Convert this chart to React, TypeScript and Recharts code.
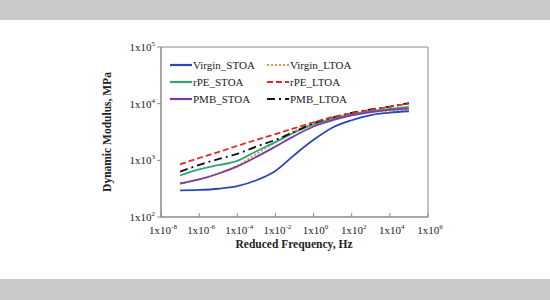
import React from 'react';
import { LineChart, Line, XAxis, YAxis, Legend, Label, ReferenceArea } from 'recharts';

// reduced frequency, Hz (one point per decade)
const FREQUENCY = [1e-7, 1e-6, 1e-5, 1e-4, 1e-3, 1e-2, 1e-1, 1, 10, 100, 1e3, 1e4, 1e5];

// dynamic modulus, MPa
const VIRGIN_STOA = [295, 300, 315, 350, 445, 650, 1250, 2300, 3800, 5100, 6300, 6950, 7350];
const VIRGIN_LTOA = [390, 460, 590, 800, 1300, 2100, 3300, 4500, 5600, 6500, 7100, 7600, 7900];
const RPE_STOA = [540, 690, 820, 980, 1450, 2100, 3100, 4300, 5400, 6500, 7400, 8100, 8800];
const RPE_LTOA = [850, 1100, 1400, 1800, 2300, 2900, 3700, 4700, 5800, 6800, 7800, 8800, 10000];
const PMB_STOA = [390, 460, 580, 780, 1150, 1750, 2700, 3950, 5100, 6200, 7100, 7800, 8200];
const PMB_LTOA = [630, 830, 1050, 1300, 1750, 2300, 3200, 4500, 5700, 6900, 7900, 8900, 10200];

const X_TICKS = [1e-8, 1e-6, 1e-4, 1e-2, 1, 1e2, 1e4, 1e6];
const Y_TICKS = [1e2, 1e3, 1e4, 1e5];

const SERIES = [
  { key: 'virginStoa', name: 'Virgin_STOA', values: VIRGIN_STOA, color: '#2b48b8', dash: undefined },
  { key: 'virginLtoa', name: 'Virgin_LTOA', values: VIRGIN_LTOA, color: '#e8924a', dash: '2 2' },
  { key: 'rpeStoa', name: 'rPE_STOA', values: RPE_STOA, color: '#2fa876', dash: undefined },
  { key: 'rpeLtoa', name: 'rPE_LTOA', values: RPE_LTOA, color: '#e02828', dash: '6 3' },
  { key: 'pmbStoa', name: 'PMB_STOA', values: PMB_STOA, color: '#7a3c9e', dash: undefined },
  { key: 'pmbLtoa', name: 'PMB_LTOA', values: PMB_LTOA, color: '#111111', dash: '8 4 2 4' },
];

// order lines are painted in (orange dotted sits underneath)
const DRAW_ORDER = ['virginLtoa', 'virginStoa', 'rpeStoa', 'pmbStoa', 'pmbLtoa', 'rpeLtoa'];

const data = FREQUENCY.map((f, i) => {
  const row: Record<string, number> = { f };
  SERIES.forEach((s) => {
    row[s.key] = s.values[i];
  });
  return row;
});

const FONT = "'Liberation Serif', 'Times New Roman', serif";
const TEXT = '#222';
const AXIS = '#8a8a8a';

const expOf = (v: number) => {
  const e = Math.round(Math.log10(v));
  return e < 0 ? `-${-e}` : `${e}`;
};

const XTick = (props: any) => {
  const { x, y, payload } = props;
  return (
    <g>
      <line x1={x} x2={x} y1={y} y2={y - 4} stroke={AXIS} />
      <text x={x + 2} y={y + 17} textAnchor="middle" fontFamily={FONT} fontSize={11} fill={TEXT}>
        <tspan>1x10</tspan>
        <tspan dy={-5} fontSize={7}>{expOf(payload.value)}</tspan>
      </text>
    </g>
  );
};

const YTick = (props: any) => {
  const { x, y, payload } = props;
  return (
    <g>
      <line x1={x} x2={x - 4} y1={y} y2={y} stroke={AXIS} />
      <text x={x - 6} y={y + 4} textAnchor="end" fontFamily={FONT} fontSize={11} fill={TEXT}>
        <tspan>1x10</tspan>
        <tspan dy={-5} fontSize={7}>{expOf(payload.value)}</tspan>
      </text>
    </g>
  );
};

const LegendBox = () => (
  <div
    style={{
      display: 'grid',
      gridTemplateColumns: '97px 120px',
      rowGap: 0,
      fontFamily: FONT,
      fontSize: 11,
      color: TEXT,
    }}
  >
    {SERIES.map((s) => (
      <div key={s.key} style={{ display: 'flex', alignItems: 'center', height: 17 }}>
        <svg width={22} height={6} style={{ marginRight: 1 }}>
          <line x1={0} x2={22} y1={3} y2={3} stroke={s.color} strokeWidth={2.2} strokeDasharray={s.dash} />
        </svg>
        <span>{s.name}</span>
      </div>
    ))}
  </div>
);

export default function App() {
  return (
    <div style={{ position: 'absolute', left: 0, top: 0, width: 550, height: 300, background: '#fff' }}>
      <div style={{ position: 'absolute', left: 0, top: 0, width: 550, height: 20, background: '#c9c9c9' }} />
      <div style={{ position: 'absolute', left: 0, top: 279, width: 550, height: 21, background: '#c9c9c9' }} />
      <LineChart
        width={550}
        height={300}
        data={data}
        margin={{ top: 47, right: 122, bottom: 63, left: 101 }}
        style={{ position: 'absolute', left: 0, top: 0 }}
      >
        <ReferenceArea
          x1={1e-8}
          x2={1e6}
          y1={100}
          y2={1e5}
          fill="none"
          stroke={AXIS}
          strokeWidth={1}
          ifOverflow="visible"
        />
        <XAxis
          dataKey="f"
          type="number"
          scale="log"
          domain={[1e-8, 1e6]}
          ticks={X_TICKS}
          allowDataOverflow
          height={20}
          tickSize={0}
          tickMargin={0}
          tickLine={false}
          stroke={AXIS}
          tick={<XTick />}
          interval={0}
        >
          <Label
            content={() => (
              <text x={294} y={248} textAnchor="middle" fontFamily={FONT} fontSize={11.5} fontWeight="bold" fill={TEXT}>
                Reduced Frequency, Hz
              </text>
            )}
          />
        </XAxis>
        <YAxis
          type="number"
          scale="log"
          domain={[100, 1e5]}
          ticks={Y_TICKS}
          allowDataOverflow
          width={60}
          tickSize={0}
          tickMargin={0}
          tickLine={false}
          stroke={AXIS}
          tick={<YTick />}
          interval={0}
        >
          <Label
            content={() => (
              <text
                x={107}
                y={132}
                transform="rotate(-90 107 132)"
                textAnchor="middle"
                dominantBaseline="central"
                fontFamily={FONT}
                fontSize={11.5}
                fontWeight="bold"
                fill={TEXT}
              >
                Dynamic Modulus, MPa
              </text>
            )}
          />
        </YAxis>
        <Legend
          layout="horizontal"
          verticalAlign="middle"
          align="center"
          content={<LegendBox />}
          wrapperStyle={{ left: 170, top: 56, width: 230, height: 52 }}
        />
        {DRAW_ORDER.map((k) => {
          const s = SERIES.find((x) => x.key === k)!;
          return (
            <Line
              key={s.key}
              dataKey={s.key}
              name={s.name}
              stroke={s.color}
              strokeWidth={s.key === 'virginLtoa' ? 2 : 1.8}
              strokeDasharray={s.dash}
              type="monotone"
              dot={false}
              isAnimationActive={false}
            />
          );
        })}
      </LineChart>
    </div>
  );
}
